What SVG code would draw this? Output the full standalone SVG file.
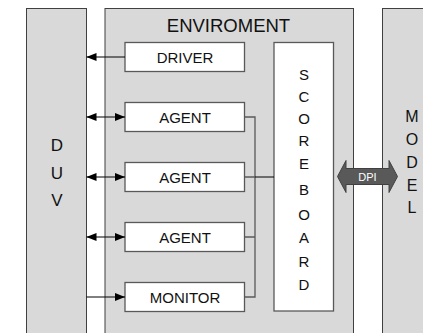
<svg xmlns="http://www.w3.org/2000/svg" width="423" height="333" viewBox="0 0 423 333">
<style>
.panel{fill:#d9d9d9;stroke:#404040;stroke-width:1}
.box{fill:#ffffff;stroke:#595959;stroke-width:1.3}
.t{font-family:"Liberation Sans",Arial,sans-serif;fill:#111;text-anchor:middle}
.bt{font-size:15px}
.ln{stroke:#000;stroke-width:1;fill:none}
.bus{stroke:#595959;stroke-width:1.3;fill:none}
</style>
<defs>
<marker id="ah" viewBox="0 0 10 8" refX="10" refY="4" markerWidth="10" markerHeight="8" markerUnits="userSpaceOnUse" orient="auto-start-reverse">
<path d="M0,0 L10,4 L0,8 Z" fill="#000"/>
</marker>
</defs>
<rect width="423" height="333" fill="#fff"/>
<g id="duv">
<rect class="panel" x="26.5" y="8.5" width="60" height="340"/>
<text class="t" x="57" y="151" font-size="17">D</text>
<text class="t" x="57" y="178.5" font-size="17">U</text>
<text class="t" x="57" y="206" font-size="17">V</text>
</g>
<g id="env">
<rect class="panel" x="105" y="8.5" width="248.5" height="340"/>
<text class="t" x="228.5" y="32" font-size="18.5">ENVIROMENT</text>
</g>
<g id="model">
<rect class="panel" x="382.5" y="8.5" width="60" height="340"/>
<text class="t" x="412" y="122" font-size="16">M</text>
<text class="t" x="412" y="145" font-size="16">O</text>
<text class="t" x="412" y="168" font-size="16">D</text>
<text class="t" x="412" y="191" font-size="16">E</text>
<text class="t" x="412" y="213" font-size="16">L</text>
</g>
<g id="driver">
<rect class="box" x="125" y="42.5" width="119.5" height="29"/>
<text class="t bt" x="185" y="63">DRIVER</text>
</g>
<g id="agent1">
<rect class="box" x="125" y="102.5" width="119.5" height="29"/>
<text class="t bt" x="185" y="123">AGENT</text>
</g>
<g id="agent2">
<rect class="box" x="125" y="162.5" width="119.5" height="29"/>
<text class="t bt" x="185" y="183">AGENT</text>
</g>
<g id="agent3">
<rect class="box" x="125" y="222.5" width="119.5" height="29"/>
<text class="t bt" x="185" y="243">AGENT</text>
</g>
<g id="monitor">
<rect class="box" x="125" y="282.5" width="119.5" height="29"/>
<text class="t bt" x="185" y="303">MONITOR</text>
</g>
<g id="scoreboard">
<rect class="box" x="274" y="42.5" width="59.5" height="268.5"/>
<g class="t" font-size="15">
<text x="304" y="80">S</text>
<text x="304" y="102">C</text>
<text x="304" y="124">O</text>
<text x="304" y="146">R</text>
<text x="304" y="168.5">E</text>
<text x="304" y="195">B</text>
<text x="304" y="219.5">O</text>
<text x="304" y="243">A</text>
<text x="304" y="266.5">R</text>
<text x="304" y="290">D</text>
</g>
</g>
<g id="connectors">
<line class="ln" x1="125" y1="57" x2="86.5" y2="57" marker-end="url(#ah)"/>
<line class="ln" x1="86.5" y1="117" x2="125" y2="117" marker-start="url(#ah)" marker-end="url(#ah)"/>
<line class="ln" x1="86.5" y1="177" x2="125" y2="177" marker-start="url(#ah)" marker-end="url(#ah)"/>
<line class="ln" x1="86.5" y1="237" x2="125" y2="237" marker-start="url(#ah)" marker-end="url(#ah)"/>
<line class="ln" x1="86.5" y1="297" x2="125" y2="297" marker-end="url(#ah)"/>
<path class="bus" d="M244.5,117 H255 V297 H244.5 M244.5,177 H255 M244.5,237 H255"/>
<line class="ln" x1="255" y1="177" x2="274" y2="177"/>
<g id="dpi">
<polygon points="337.5,176.5 346,160.5 346,168.5 389,168.5 389,160.5 397.5,176.5 389,192.5 389,184.5 346,184.5 346,192.5" fill="#595959" stroke="#404040" stroke-width="1"/>
<text x="367.5" y="181" font-family="'Liberation Sans',Arial,sans-serif" font-size="11" fill="#fff" text-anchor="middle">DPI</text>
</g>
</g>
</svg>
